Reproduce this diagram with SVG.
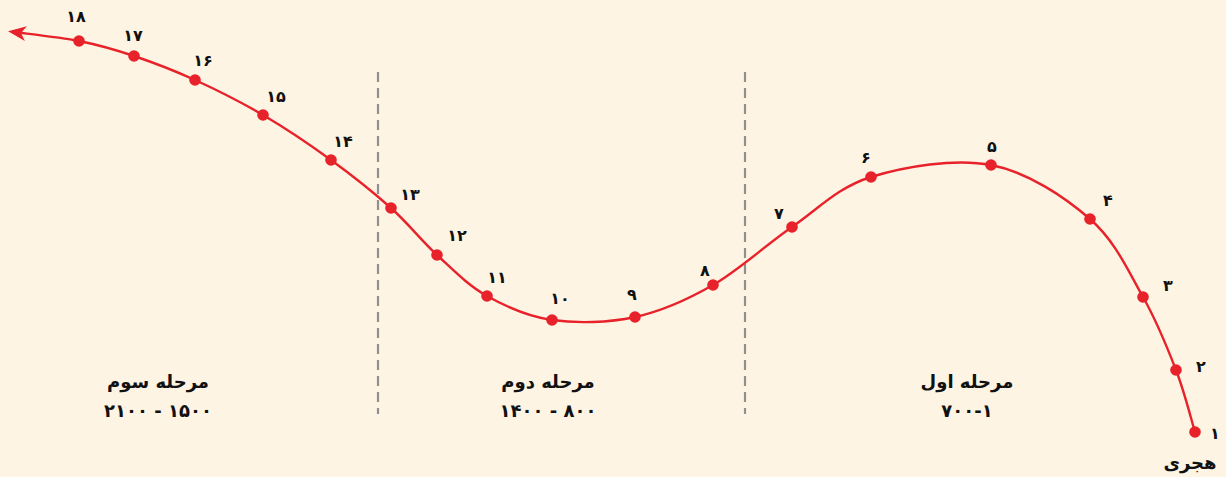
<svg xmlns="http://www.w3.org/2000/svg" width="1226" height="477" viewBox="0 0 1226 477">
<style>
.bg{fill:#fef4e4}
.curve{fill:none;stroke:#e8222a;stroke-width:2.4}
.dot{fill:#e8222a}
.div{stroke:#8f8f8f;stroke-width:2.2;stroke-dasharray:10 6}
.num{font-family:"DejaVu Sans",sans-serif;font-weight:bold;font-size:16px;fill:#111;text-anchor:middle;dominant-baseline:central}
.lbl{font-family:"DejaVu Sans",sans-serif;font-weight:bold;font-size:18px;fill:#111;text-anchor:middle;dominant-baseline:central}
</style>
<defs>
<marker id="arr" markerUnits="userSpaceOnUse" viewBox="-14 -9 22 18" markerWidth="22" markerHeight="18" refX="0" refY="0" orient="auto">
<path d="M6,0 L-12,-7.5 L-7,0 L-12,7.5 Z" fill="#e8222a"/>
</marker>
</defs>
<rect class="bg" x="0" y="0" width="1226" height="477"/>
<g id="dividers">
<line class="div" x1="378" y1="72" x2="378" y2="414"/>
<line class="div" x1="745" y1="72" x2="745" y2="414"/>
</g>
<g id="connectors">
<path class="curve" marker-end="url(#arr)" d="M1195,432 C1191.8,421.7 1184.7,392.5 1176,370 C1167.3,347.5 1157.3,322.2 1143,297 C1128.7,271.8 1115.3,241 1090,219 C1064.7,197 1027.5,172 991,165 C954.5,158 904.2,166.7 871,177 C837.8,187.3 818.3,209 792,227 C765.7,245 739.2,270 713,285 C686.8,300 661.8,311.2 635,317 C608.2,322.8 576.7,323.5 552,320 C527.3,316.5 506.2,306.8 487,296 C467.8,285.2 453,269.7 437,255 C421,240.3 408.7,223.8 391,208 C373.3,192.2 352.3,175.5 331,160 C309.7,144.5 285.7,128.3 263,115 C240.3,101.7 216.5,89.8 195,80 C173.5,70.2 153.3,62.5 134,56 C114.7,49.5 99,45 79,41 C59,37 24.8,33.5 14,32"/>
</g>
<g id="n1"><circle class="dot" cx="1195" cy="432" r="5.8"/><text class="num" x="1215" y="433">۱</text></g>
<g id="n2"><circle class="dot" cx="1176" cy="370" r="5.8"/><text class="num" x="1201" y="366">۲</text></g>
<g id="n3"><circle class="dot" cx="1143" cy="297" r="5.8"/><text class="num" x="1168" y="285">۳</text></g>
<g id="n4"><circle class="dot" cx="1090" cy="219" r="5.8"/><text class="num" x="1108" y="200">۴</text></g>
<g id="n5"><circle class="dot" cx="991" cy="165" r="5.8"/><text class="num" x="992" y="146">۵</text></g>
<g id="n6"><circle class="dot" cx="871" cy="177" r="5.8"/><text class="num" x="866" y="157">۶</text></g>
<g id="n7"><circle class="dot" cx="792" cy="227" r="5.8"/><text class="num" x="779" y="213">۷</text></g>
<g id="n8"><circle class="dot" cx="713" cy="285" r="5.8"/><text class="num" x="705" y="270">۸</text></g>
<g id="n9"><circle class="dot" cx="635" cy="317" r="5.8"/><text class="num" x="632" y="294">۹</text></g>
<g id="n10"><circle class="dot" cx="552" cy="320" r="5.8"/><text class="num" x="560" y="298">۱۰</text></g>
<g id="n11"><circle class="dot" cx="487" cy="296" r="5.8"/><text class="num" x="497" y="277">۱۱</text></g>
<g id="n12"><circle class="dot" cx="437" cy="255" r="5.8"/><text class="num" x="457" y="235">۱۲</text></g>
<g id="n13"><circle class="dot" cx="391" cy="208" r="5.8"/><text class="num" x="410" y="194">۱۳</text></g>
<g id="n14"><circle class="dot" cx="331" cy="160" r="5.8"/><text class="num" x="343" y="141">۱۴</text></g>
<g id="n15"><circle class="dot" cx="263" cy="115" r="5.8"/><text class="num" x="276" y="96">۱۵</text></g>
<g id="n16"><circle class="dot" cx="195" cy="80" r="5.8"/><text class="num" x="203" y="60">۱۶</text></g>
<g id="n17"><circle class="dot" cx="134" cy="56" r="5.8"/><text class="num" x="133" y="35">۱۷</text></g>
<g id="n18"><circle class="dot" cx="79" cy="41" r="5.8"/><text class="num" x="76" y="16">۱۸</text></g>
<g id="stage3"><text class="lbl" x="158" y="381">مرحله سوم</text><text class="lbl" x="158" y="410" direction="ltr">۲۱۰۰ - ۱۵۰۰</text></g>
<g id="stage2"><text class="lbl" x="548" y="381">مرحله دوم</text><text class="lbl" x="548" y="410" direction="ltr">۱۴۰۰ - ۸۰۰</text></g>
<g id="stage1"><text class="lbl" x="967" y="381">مرحله اول</text><text class="lbl" x="967" y="410" direction="ltr">۷۰۰-۱</text></g>
<g id="hijri"><text class="lbl" x="1190" y="462">هجری</text></g>
</svg>
